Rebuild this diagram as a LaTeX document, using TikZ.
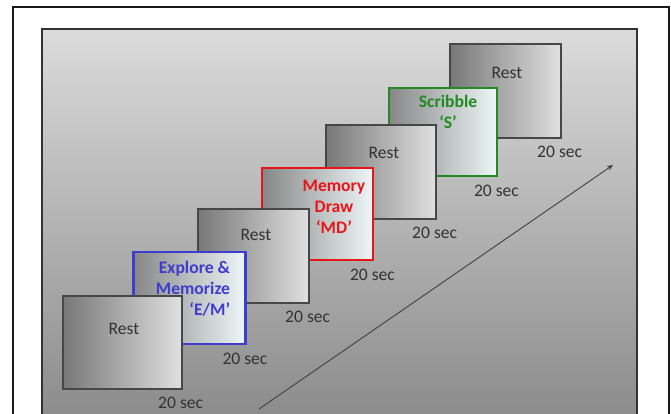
\documentclass[tikz,border=0pt]{standalone}
\usepackage{fontspec}
\setmainfont{Carlito}
\usetikzlibrary{arrows.meta,positioning}
\definecolor{paneltop}{RGB}{219,219,219}
\definecolor{panelbot}{RGB}{140,140,140}
\definecolor{restdark}{RGB}{120,120,120}
\definecolor{restlight}{RGB}{224,224,224}
\definecolor{taskdark}{RGB}{135,135,135}
\definecolor{tasklight}{RGB}{238,246,248}
\definecolor{emblue}{RGB}{62,62,205}
\definecolor{mdred}{RGB}{232,22,26}
\definecolor{sgreen}{RGB}{34,138,34}

\begin{document}
\begin{tikzpicture}[
    x=1pt, y=-1pt,
    >={Stealth[length=6pt,width=5pt]},
    rb/.style={
        draw=black!72,
        line width=1.3pt,
        left color=restdark,
        right color=restlight,
        minimum width=111pt,
        minimum height=94pt,
        inner sep=0pt
    },
    tb/.style={
        line width=2.9pt,
        left color=taskdark,
        right color=tasklight,
        minimum width=111pt,
        minimum height=92pt,
        inner sep=0pt
    },
    txt/.style={
        font=\fontsize{17.6}{21}\selectfont,
        inner sep=0pt,
        align=center,
        text=black!80
    },
    dur/.style={
        txt,
        anchor=north,
        below=7pt of #1.south east,
        xshift=-2pt
    }
]
\useasboundingbox (0,0) rectangle (671,414);
\clip (0,0) rectangle (671,414);

% frame and background
\draw[line width=2pt, black!90] (13,7) rectangle (669,440);
\draw[line width=1.6pt, black!80, top color=paneltop, bottom color=panelbot]
    (42,29) rectangle (637,416);

% blocks, back to front
\node[rb] (rest4) at (505.5,91) {};
\node[txt] (rest4txt) at (507,73) {Rest};
\node[dur=rest4] (d4) {20 sec};

\node[tb, draw=sgreen, minimum width=108pt, minimum height=88pt] (scrib) at (443,132) {};
\node[txt, text=sgreen, font=\fontsize{17.6}{21}\selectfont\bfseries] (scribtxt) at (448,112) {Scribble\\ ‘S’};
\node[dur=scrib] (dS) {20 sec};

\node[rb, minimum width=110pt] (rest3) at (381,172) {};
\node[txt] (rest3txt) at (384,153) {Rest};
\node[dur=rest3] (d3) {20 sec};

\node[tb, draw=mdred] (md) at (317.5,214) {};
\node[txt, text=mdred, font=\fontsize{17.6}{21}\selectfont\bfseries] (mdtxt) at (334,207) {Memory\\ Draw\\ ‘MD’};
\node[dur=md] (dMD) {20 sec};

\node[rb] (rest2) at (253.5,256) {};
\node[txt] (rest2txt) at (256,235) {Rest};
\node[dur=rest2] (d2) {20 sec};

\node[tb, draw=emblue, minimum width=112pt] (em) at (189.5,298) {};
\node[txt, text=emblue, align=right, font=\fontsize{17.6}{21}\selectfont\bfseries] (emtxt) at (193,289) {Explore \&\\ Memorize\\ ‘E/M’};
\node[dur=em] (dEM) {20 sec};

\node[rb, minimum width=119pt, minimum height=93pt] (rest1) at (122.5,342.5) {};
\node[txt] (rest1txt) at (124,329) {Rest};
\node[dur=rest1] (d1) {20 sec};

% time arrow
\coordinate (tstart) at (259,409);
\coordinate (tend) at (613,165);
\draw[->, line width=0.9pt, black!75] (tstart) -- (tend);

\end{tikzpicture}
\end{document}
